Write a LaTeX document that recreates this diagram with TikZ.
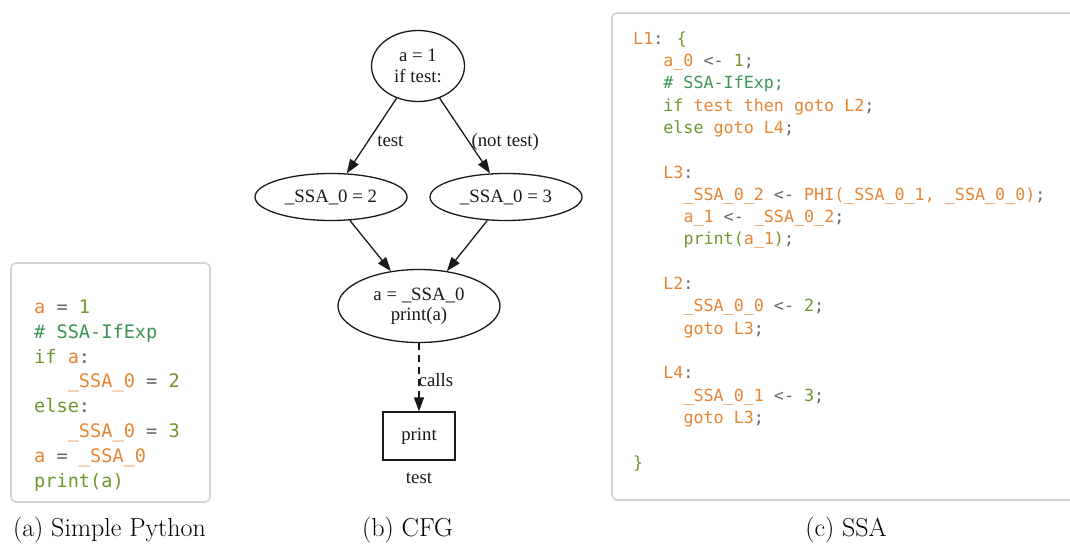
\documentclass[tikz,border=0pt]{standalone}
\usepackage{fontspec}
\newfontfamily\codefont{DejaVu Sans Mono}
\newfontfamily\cfgfont{Liberation Serif}
\usetikzlibrary{arrows.meta,shapes.geometric}

% syntax colours
\definecolor{synvar}{RGB}{230,134,52}
\definecolor{synkw}{RGB}{112,150,46}
\definecolor{syncom}{RGB}{60,148,86}
\definecolor{synop}{RGB}{100,100,100}
\definecolor{boxline}{RGB}{212,212,212}
\definecolor{ink}{RGB}{25,25,25}

\newcommand\cOr[1]{\textcolor{synvar}{#1}}
\newcommand\cOl[1]{\textcolor{synkw}{#1}}
\newcommand\cCm[1]{\textcolor{syncom}{#1}}
\newcommand\cOp[1]{\textcolor{synop}{#1}}

\tikzset{
  codebox/.style={draw=boxline, line width=1.6pt, rounded corners=5pt, fill=white},
  pyline/.style={anchor=base west, inner sep=0pt, font=\codefont\fontsize{18.6}{22}\selectfont},
  ssaline/.style={anchor=base west, inner sep=0pt, font=\codefont\fontsize{16.7}{20}\selectfont},
  cfgnode/.style={ellipse, draw=ink, line width=1.3pt, inner sep=0pt, text=ink, align=center,
    font=\cfgfont\fontsize{18.8}{20.5}\selectfont},
  cfgbox/.style={rectangle, draw=ink, line width=1.3pt, inner sep=0pt, text=ink,
    minimum width=72pt, minimum height=48pt, font=\cfgfont\fontsize{18.8}{20.5}\selectfont},
  cfgedge/.style={draw=ink, line width=1.3pt, -{Triangle[length=14pt,width=10pt]}},
  cfglabel/.style={anchor=west, inner sep=1pt, text=ink, font=\cfgfont\fontsize{18.8}{20.5}\selectfont},
  caption/.style={anchor=base, inner sep=0pt, font=\fontsize{26}{30}\selectfont},
}

\begin{document}
\begin{tikzpicture}[x=1pt, y=-1pt]
\useasboundingbox (0,0) rectangle (1070,545);

% ---------- (a) Python source ----------
\draw[codebox] (11,263) rectangle (210,502);
\foreach \i/\txt/\ind in {
  0/{\cOr{a} \cOp{=} \cOl{1}}/0,
  1/{\cCm{\# SSA-IfExp}}/0,
  2/{\cOl{if} \cOr{a}\cOp{:}}/0,
  3/{\cOr{\_SSA\_0} \cOp{=} \cOl{2}}/3,
  4/{\cOl{else}\cOp{:}}/0,
  5/{\cOr{\_SSA\_0} \cOp{=} \cOl{3}}/3,
  6/{\cOr{a} \cOp{=} \cOr{\_SSA\_0}}/0,
  7/{\cOl{print(a)}}/0}
  \node[pyline] (py\i) at ({34+11.2*\ind}, {313.5+24.8*\i}) {\txt};
\node[caption] (capa) at (109.5,536) {(a) Simple Python};

% ---------- (b) control flow graph ----------
\node[cfgnode, minimum width=93pt, minimum height=71pt] (entry) at (418,66) {a = 1\\if test:};
\node[cfgnode, minimum width=152pt, minimum height=47pt] (thenb) at (331,197) {\_SSA\_0 = 2};
\node[cfgnode, minimum width=152pt, minimum height=47pt] (elseb) at (506,197) {\_SSA\_0 = 3};
\node[cfgnode, minimum width=162pt, minimum height=73pt] (join) at (419,306) {a = \_SSA\_0\\print(a)};
\node[cfgbox] (callee) at (419,436) {print};
\node[text=ink, inner sep=0pt, font=\cfgfont\fontsize{18.8}{20.5}\selectfont] (calleemod) at (419,478) {test};

\draw[cfgedge] (entry) -- node[cfglabel, pos=0.58, xshift=8pt] (lbltrue) {test} (thenb);
\draw[cfgedge] (entry) -- node[cfglabel, pos=0.58, xshift=1pt] (lblfalse) {(not test)} (elseb);
\draw[cfgedge] (thenb) -- (join);
\draw[cfgedge] (elseb) -- (join);
\draw[cfgedge, dash pattern=on 7pt off 5pt] (join) -- node[cfglabel, pos=0.54, inner sep=0pt, xshift=-1pt] (lblcalls) {calls} (callee);
\node[caption] (capb) at (407.5,536) {(b) CFG};

% ---------- (c) SSA form ----------
\begin{scope}
  \clip (0,0) rectangle (1070,545);
  \draw[codebox] (612,13) rectangle (1095,500);
\end{scope}
\foreach \i/\txt/\ind in {
  0/{\cOr{L1}\cOp{:} \cOl{\{}}/0,
  1/{\cOr{a\_0} \cOp{<-} \cOl{1}\cOp{;}}/3,
  2/{\cCm{\# SSA-IfExp;}}/3,
  3/{\cOl{if} \cOr{test then goto L2}\cOp{;}}/3,
  4/{\cOl{else} \cOr{goto L4}\cOp{;}}/3,
  6/{\cOr{L3}\cOp{:}}/3,
  7/{\cOr{\_SSA\_0\_2} \cOp{<-} \cOr{PHI(\_SSA\_0\_1, \_SSA\_0\_0)}\cOp{;}}/5,
  8/{\cOr{a\_1} \cOp{<-} \cOr{\_SSA\_0\_2}\cOp{;}}/5,
  9/{\cOl{print(}\cOr{a\_1}\cOl{)}\cOp{;}}/5,
  11/{\cOr{L2}\cOp{:}}/3,
  12/{\cOr{\_SSA\_0\_0} \cOp{<-} \cOl{2}\cOp{;}}/5,
  13/{\cOr{goto L3}\cOp{;}}/5,
  15/{\cOr{L4}\cOp{:}}/3,
  16/{\cOr{\_SSA\_0\_1} \cOp{<-} \cOl{3}\cOp{;}}/5,
  17/{\cOr{goto L3}\cOp{;}}/5,
  19/{\cOl{\}}}/0}
  \node[ssaline] (ssa\i) at ({633+10.06*\ind}, {44.3+22.3*\i}) {\txt};
\node[caption] (capc) at (846,536) {(c) SSA};
\end{tikzpicture}
\end{document}
